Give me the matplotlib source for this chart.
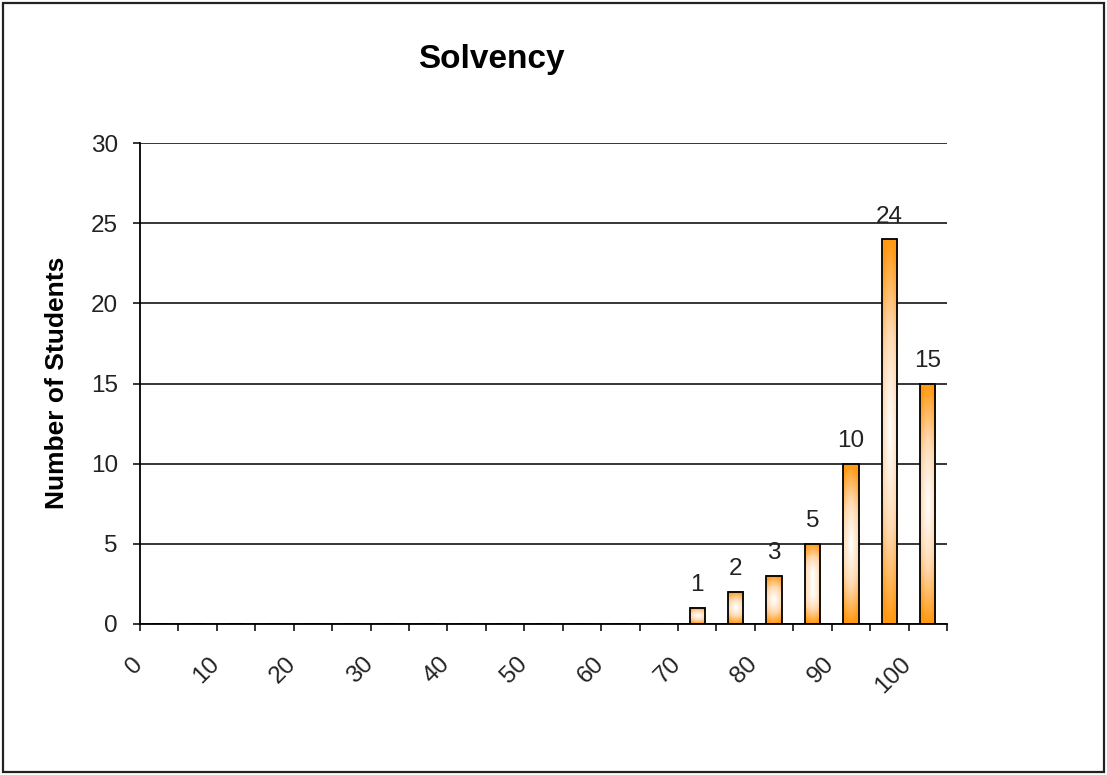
import matplotlib
matplotlib.use("Agg")
import matplotlib.pyplot as plt
import matplotlib.transforms as mtransforms
from matplotlib.patches import Rectangle
from matplotlib.colors import LinearSegmentedColormap
import numpy as np

# score bins (percent) and number of students in each
scores = ["0", "5", "10", "15", "20", "25", "30", "35", "40", "45", "50",
          "55", "60", "65", "70", "75", "80", "85", "90", "95", "100"]
students = [0, 0, 0, 0, 0, 0, 0, 0, 0, 0, 0,
            0, 0, 0, 1, 2, 3, 5, 10, 24, 15]
y_ticks = [0, 5, 10, 15, 20, 25, 30]

title = "Solvency"
y_label = "Number of Students"

plt.rcParams['font.family'] = ['Liberation Sans', 'DejaVu Sans']

orange = "#FF9912"
grad_cmap = LinearSegmentedColormap.from_list("og", ["white", "#FFD9B0", orange])
txt_col = "#222222"

fig = plt.figure(figsize=(11.07, 7.75), dpi=100)
ax = fig.add_axes([140/1107, 1 - 624/775, 807/1107, 481/775])

x = np.arange(len(scores))
bar_w = 0.4

# outlines
bars = ax.bar(x, students, width=bar_w, facecolor="none", edgecolor="black",
              linewidth=1.3, zorder=4)

# gradient fill: white at the middle, orange towards top/bottom and sides
gy = np.linspace(-1, 1, 200)[:, None]
gx = np.linspace(-1, 1, 40)[None, :]
for b, v in zip(bars, students):
    if v <= 0:
        continue
    x0 = b.get_x()
    x1 = x0 + b.get_width()
    h_px = v / 30 * 481
    half = min(h_px, 60) / 2
    dy = np.clip((np.abs(gy) * h_px / 2 - (h_px / 2 - half)) / half, 0, 1)
    dx = np.abs(gx) * 0.55
    t = np.clip(np.sqrt(dy ** 2 + dx ** 2), 0, 1) ** 1.1
    if h_px > 120:
        t = np.clip(np.sqrt(gy ** 2 + (0.55 * gx) ** 2), 0, 1) ** 1.1
    ax.imshow(t, cmap=grad_cmap, vmin=0, vmax=1, extent=(x0, x1, 0, v),
              aspect="auto", interpolation="bilinear", zorder=3)

for xi, v in zip(x, students):
    if v > 0:
        ax.annotate(str(v), (xi, v), xytext=(0, 12), textcoords="offset points",
                    ha="center", va="baseline", fontsize=17.5, color=txt_col,
                    zorder=5)

ax.set_xlim(-0.5, len(scores) - 0.5)
ax.set_ylim(0, 30)

ax.set_yticks(y_ticks)
ax.set_yticklabels([str(t) for t in y_ticks])
ax.yaxis.grid(True, color="black", linewidth=1.1, zorder=1)
ax.set_axisbelow(True)

# category labels every other bin, tick marks between bins
ax.set_xticks(x[::2])
ax.set_xticklabels(scores[::2], rotation=45, ha="right")
ax.set_xticks(np.arange(len(scores) + 1) - 0.5, minor=True)
ax.tick_params(axis="x", which="major", length=0, pad=21, labelsize=17.5,
               labelcolor=txt_col)
ax.tick_params(axis="x", which="minor", length=5, width=1.1, direction="out")
ax.tick_params(axis="y", length=5, width=1.1, direction="out", pad=11,
               labelsize=17.5, labelcolor=txt_col)
offset = mtransforms.ScaledTranslation(-12/100, 0, fig.dpi_scale_trans)
for lab in ax.get_xticklabels():
    lab.set_transform(lab.get_transform() + offset)

for s in ["top", "right"]:
    ax.spines[s].set_visible(False)
for s in ["left", "bottom"]:
    ax.spines[s].set_linewidth(1.3)
    ax.spines[s].set_zorder(6)

fig.text(491/1107, 1 - 68/775, title, ha="center", va="baseline",
         fontsize=24, fontweight="bold")
fig.text(57/1107, 1 - 383/775, y_label, ha="center", va="center",
         rotation=90, fontsize=19, fontweight="bold")

# outer chart border
fig.patches.append(Rectangle((3/1107, 3/775), 1101/1107, 769/775,
                             transform=fig.transFigure, fill=False,
                             edgecolor="#222222", linewidth=1.6))

fig.savefig("out.png", dpi=100)
